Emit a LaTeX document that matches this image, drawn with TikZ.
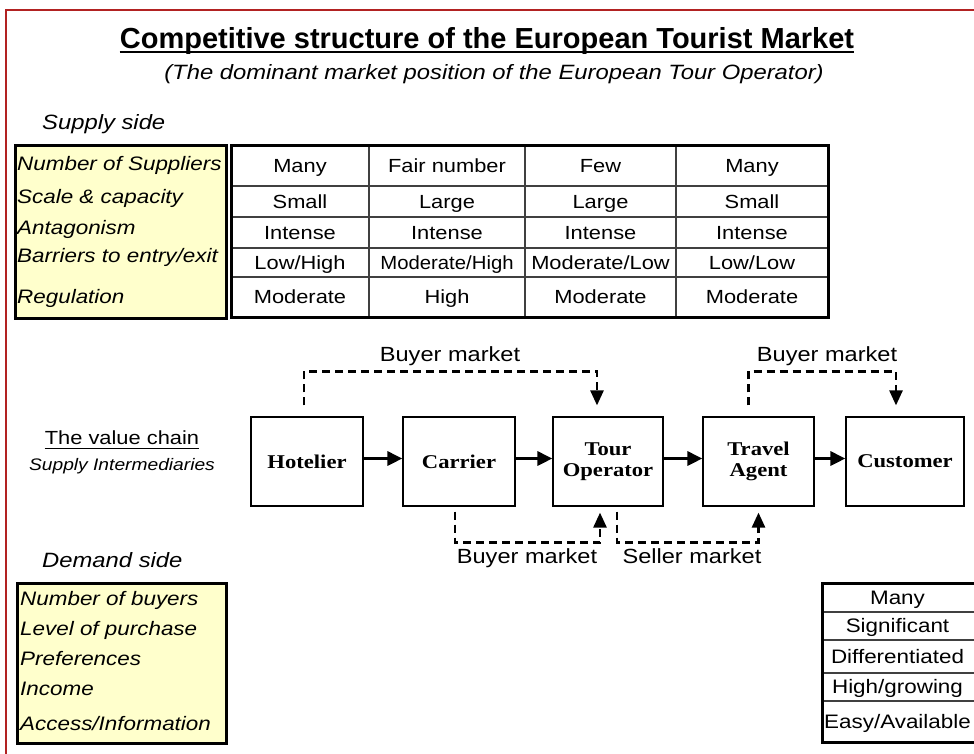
\documentclass[tikz,border=0pt]{standalone}
\usepackage{fontspec}
\setmainfont{Liberation Sans}
\newfontfamily\ars[FakeStretch=1.15]{Liberation Sans}
\newfontfamily\tms[FakeStretch=1.16]{Liberation Serif}
\usetikzlibrary{arrows.meta,calc}
\definecolor{framered}{HTML}{B22222}
\definecolor{pale}{HTML}{FFFFCC}
\definecolor{gridc}{HTML}{404040}
\newcommand\fsz[1]{\fontsize{#1}{#1}\selectfont}
\begin{document}
\begin{tikzpicture}[x=1pt,y=-1pt,
  cell/.style={font={\ars\fsz{19}}, inner sep=0pt, text height=13.6pt, text depth=0pt},
  slab/.style={font={\ars\itshape\fsz{19.5}}, inner sep=0pt, text height=14pt, text depth=0pt, anchor=west},
  chain/.style={draw, line width=1.2pt, minimum height=89pt, align=center, inner sep=0pt, font={\tms\bfseries\fontsize{19.5}{21}\selectfont}},
  mlab/.style={font={\ars\fsz{20.5}}, inner sep=0pt, text height=14.7pt, text depth=0pt},
  heading/.style={font={\ars\itshape\fsz{20.7}}, inner sep=0pt, text height=14.8pt, text depth=0pt},
  arr/.style={-{Triangle[length=15pt,width=14pt]}, line width=3pt},
  dashc/.style={line width=2.6pt, dash pattern=on 8pt off 5pt, -{Triangle[length=15pt,width=13pt]}},
  thickbox/.style={line width=3pt},
  gridline/.style={line width=1.3pt, gridc}
]
\useasboundingbox (0,0) rectangle (974,753);
\fill[white] (0,0) rectangle (974,753);
\draw[framered, line width=1.5pt] (6,760) -- (6,10) -- (980,10);

% Title
\node[font={\bfseries\fsz{29}}, inner sep=0pt, text height=20.8pt, text depth=0pt] (title) at (487,38) {Competitive structure of the European Tourist Market};
\draw[line width=2pt] ($(title.base west)+(0,4)$) -- ($(title.base east)+(0,4)$);
\node[heading] (sub) at (494,72) {(The dominant market position of the European Tour Operator)};
\node[heading, anchor=west] (supply) at (42,122.5) {Supply side};

% Supply labels
\draw[thickbox, fill=pale] (15,145) rectangle (226,318);
\node[slab] (l1) at (17,163.5) {Number of Suppliers};
\node[slab] (l2) at (17,196.5) {Scale \& capacity};
\node[slab] (l3) at (17,227.5) {Antagonism};
\node[slab] (l4) at (17,255.5) {Barriers to entry/exit};
\node[slab] (l5) at (17,296.5) {Regulation};

% Supply table
\foreach \x in {369,525,676} \draw[gridline] (\x,145) -- (\x,317);
\foreach \y in {186,217,248,277} \draw[gridline] (231,\y) -- (828,\y);
\draw[thickbox] (231,145) rectangle (828,317);
\foreach \y/\a/\b/\c/\d [count=\r] in {165.5/Many/Fair number/Few/Many,
    201.5/Small/Large/Large/Small,
    232.5/Intense/Intense/Intense/Intense,
    262.5/Low\slash High/\scalebox{0.93}[1]{Moderate/High}/Moderate\slash Low/Low\slash Low,
    297/Moderate/High/Moderate/Moderate}{
  \node[cell] (s\r a) at (300,\y) {\a};
  \node[cell] (s\r b) at (447,\y) {\b};
  \node[cell] (s\r c) at (600.5,\y) {\c};
  \node[cell] (s\r d) at (752,\y) {\d};
}

% Value chain
\node[cell] (vc) at (122,437.5) {The value chain};
\draw[line width=1.2pt] ($(vc.base west)+(0,4)$) -- ($(vc.base east)+(0,4)$);
\node[font={\ars\itshape\fsz{16.7}}, inner sep=0pt, text height=12pt, text depth=0pt] (si) at (122,464) {Supply Intermediaries};

\node[chain, minimum width=112pt] (hot) at (307,461.5) {Hotelier};
\node[chain, minimum width=112pt] (car) at (459,461.5) {Carrier};
\node[chain, minimum width=110pt] (tour) at (608,461.5) {Tour\\Operator};
\node[chain, minimum width=111pt] (trav) at (758.5,461.5) {Travel\\Agent};
\node[chain, minimum width=118pt] (cust) at (905,461.5) {Customer};

\draw[arr] ([yshift=3pt]hot.east) -- ([yshift=3pt]car.west);
\draw[arr] ([yshift=3pt]car.east) -- ([yshift=3pt]tour.west);
\draw[arr] ([yshift=3pt]tour.east) -- ([yshift=3pt]trav.west);
\draw[arr] ([yshift=3pt]trav.east) -- ([yshift=3pt]cust.west);

\draw[dashc] ($(hot.north)+(-3,-11)$) -- ++(0,-34) -| ($(tour.north)+(-11,-11)$);
\draw[dashc] ($(trav.north)+(-10,-11)$) -- ++(0,-34) -| ($(cust.north)+(-9,-11)$);
\draw[dashc] ($(car.south)+(-4,5)$) -- ++(0,31) -| ($(tour.south)+(-8,6)$);
\draw[dashc] ($(tour.south)+(9,5)$) -- ++(0,31) -| ($(trav.south)+(0,6)$);

\node[mlab] (bm1) at (450,354.5) {Buyer market};
\node[mlab] (bm2) at (827,354.5) {Buyer market};
\node[mlab] (bm3) at (527,556) {Buyer market};
\node[mlab] (sm) at (692,556) {Seller market};

% Demand side
\node[heading, anchor=west] (demand) at (42,560.5) {Demand side};
\draw[thickbox, fill=pale] (17,583) rectangle (226,743);
\node[slab] (d1) at (20,598.5) {Number of buyers};
\node[slab] (d2) at (20,628.5) {Level of purchase};
\node[slab] (d3) at (20,658.5) {Preferences};
\node[slab] (d4) at (20,688.5) {Income};
\node[slab] (d5) at (20,723.5) {Access/Information};

\foreach \y in {612,640,673,701} \draw[gridline] (822,\y) -- (976,\y);
\draw[thickbox] (822,583) rectangle (977,742);
\node[cell, font={\ars\fsz{19.5}}] (r1) at (897.5,597.5) {Many};
\node[cell, font={\ars\fsz{19.5}}] (r2) at (897.5,626) {Significant};
\node[cell, font={\ars\fsz{19.5}}] (r3) at (897.5,656.5) {Differentiated};
\node[cell, font={\ars\fsz{19.5}}] (r4) at (897.5,687) {High/growing};
\node[cell, font={\ars\fsz{19.5}}] (r5) at (897.5,721.5) {Easy/Available};
\end{tikzpicture}
\end{document}
